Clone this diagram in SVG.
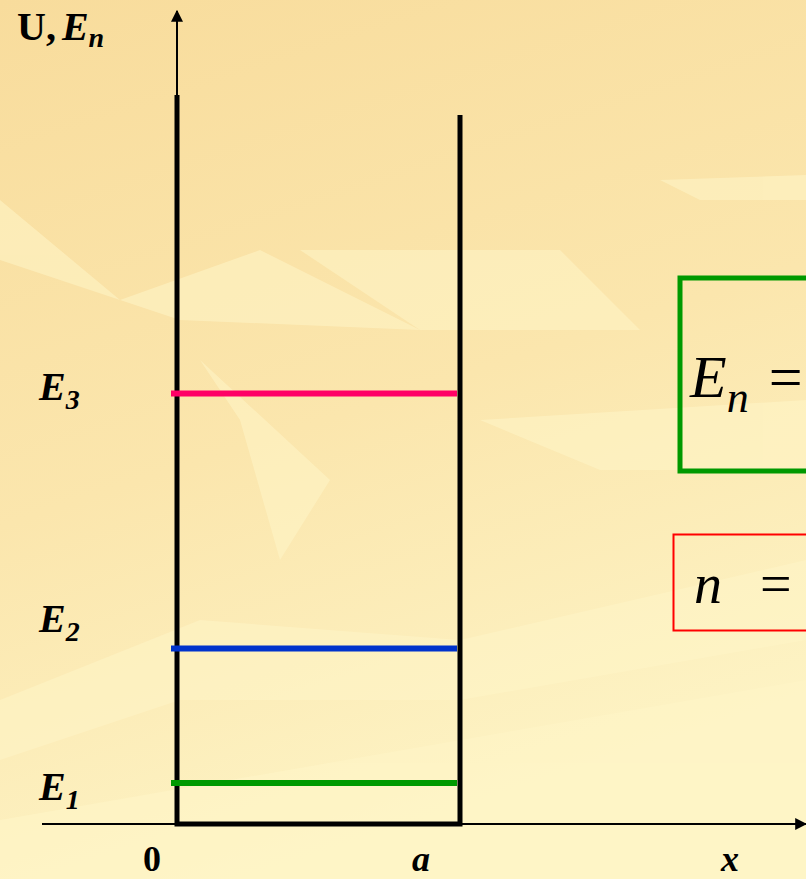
<svg xmlns="http://www.w3.org/2000/svg" width="806" height="879" viewBox="0 0 806 879">
<defs>
<linearGradient id="bg" x1="0" y1="0" x2="0.3" y2="1">
<stop offset="0" stop-color="#f8dc9c"/>
<stop offset="0.55" stop-color="#fbe6ad"/>
<stop offset="1" stop-color="#fdf3c4"/>
</linearGradient>
<marker id="arr" viewBox="0 0 10 10" refX="9" refY="5" markerWidth="12" markerHeight="14" markerUnits="userSpaceOnUse" orient="auto">
<path d="M0,0 L10,5 L0,10 z" fill="#000"/>
</marker>
<style>
text{font-family:"Liberation Serif","Times New Roman","DejaVu Serif",serif;fill:#000}
.bi{font-weight:bold;font-style:italic}
.b{font-weight:bold;font-style:normal}
.i{font-style:italic;font-weight:normal}
.r{font-style:normal;font-weight:normal}
.wall{stroke:#000;stroke-width:5;fill:none}
.lvl{stroke-width:6;fill:none}
</style>
</defs>
<rect width="806" height="879" fill="url(#bg)"/>
<g id="texture" fill="#fff6c8" opacity="0.55">
<polygon points="0,200 120,300 260,250 420,330 180,320 0,260"/>
<polygon points="200,360 330,480 280,560 240,420"/>
<polygon points="480,420 806,400 806,470 600,470"/>
<polygon points="660,180 806,175 806,200 700,200"/>
<polygon points="0,700 200,620 460,640 806,560 806,640 460,700 180,700 0,760"/>
<polygon points="0,820 806,680 806,879 0,879"/>
<polygon points="300,250 560,250 640,330 420,330"/>
</g>
<g id="connectors">
<line x1="177" y1="100" x2="177" y2="11" stroke="#000" stroke-width="2" marker-end="url(#arr)"/>
<line x1="42" y1="824" x2="806" y2="824" stroke="#000" stroke-width="2" marker-end="url(#arr)"/>
</g>
<g id="well">
<polyline class="wall" points="177,95 177,824 460,824 460,115"/>
</g>
<g id="levels">
<line class="lvl" x1="171" y1="393.5" x2="457" y2="393.5" stroke="#ff0066"/>
<line class="lvl" x1="171" y1="648.5" x2="457" y2="648.5" stroke="#0033cc"/>
<line class="lvl" x1="171" y1="783" x2="457" y2="783" stroke="#009900"/>
</g>
<g id="axis-labels">
<text x="17" y="40" font-size="40"><tspan class="b">U,</tspan><tspan class="bi" dx="6">E</tspan><tspan class="bi" font-size="28" dy="7">n</tspan></text>
<text x="143" y="871" class="b" font-size="36">0</text>
<text x="412" y="871" class="bi" font-size="36">a</text>
<text x="721" y="871" class="bi" font-size="36">x</text>
</g>
<g id="E3">
<text x="39" y="400" class="bi" font-size="40">E<tspan font-size="28" dy="9">3</tspan></text>
</g>
<g id="E2">
<text x="39" y="632" class="bi" font-size="40">E<tspan font-size="28" dy="9">2</tspan></text>
</g>
<g id="E1">
<text x="39" y="800" class="bi" font-size="40">E<tspan font-size="28" dy="9">1</tspan></text>
</g>
<g id="formula-energy">
<rect x="680" y="278" width="140" height="193" fill="none" stroke="#009900" stroke-width="5"/>
<text x="690" y="397" font-size="60"><tspan class="i">E</tspan><tspan class="i" font-size="44" dy="15">n</tspan><tspan class="r" dy="-15" dx="20">=</tspan></text>
</g>
<g id="formula-n">
<rect x="673.5" y="534.5" width="140" height="96" fill="none" stroke="#ff0000" stroke-width="2"/>
<text x="694" y="603" font-size="56"><tspan class="i">n</tspan><tspan class="r" dx="38">=</tspan></text>
</g>
</svg>
